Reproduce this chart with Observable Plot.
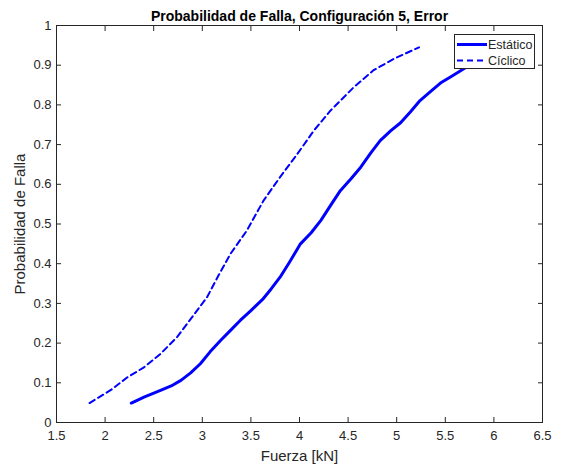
<!DOCTYPE html>
<html><head><meta charset="utf-8">
<script src="https://cdn.jsdelivr.net/npm/d3@7"></script>
<script src="https://cdn.jsdelivr.net/npm/@observablehq/plot@0.6"></script>
<style>
body{margin:0;background:#fff;}
#wrap{position:relative;width:564px;height:472px;font-family:"Liberation Sans",Arial,sans-serif;}
#legend{position:absolute;left:454px;top:34px;width:79px;height:33px;background:#fff;border:1px solid #262626;}
#legend svg{display:block;}
</style></head><body><div id="wrap"></div>
<script>
const titleText = "Probabilidad de Falla, Configuración 5, Error";
const xLabel = "Fuerza [kN]";
const yLabel = "Probabilidad de Falla";
const seriesNames = ["Estático", "Cíclico"];
const xTicks = [1.5, 2, 2.5, 3, 3.5, 4, 4.5, 5, 5.5, 6, 6.5];
const yTicks = [0, 0.1, 0.2, 0.3, 0.4, 0.5, 0.6, 0.7, 0.8, 0.9, 1];

const estaticoX = [2.27, 2.40, 2.57, 2.68, 2.78, 2.88, 2.98, 3.08, 3.19, 3.29, 3.39, 3.50, 3.62, 3.71, 3.80, 3.90, 4.01, 4.12, 4.22, 4.32, 4.42, 4.53, 4.63, 4.73, 4.83, 4.94, 5.04, 5.14, 5.24, 5.35, 5.45, 5.57, 5.69, 5.82, 5.95, 6.15];
const estaticoY = [0.049, 0.064, 0.081, 0.092, 0.106, 0.125, 0.148, 0.178, 0.207, 0.232, 0.257, 0.282, 0.310, 0.337, 0.366, 0.405, 0.450, 0.478, 0.509, 0.547, 0.584, 0.614, 0.643, 0.678, 0.710, 0.735, 0.755, 0.782, 0.811, 0.834, 0.855, 0.873, 0.891, 0.908, 0.925, 0.950];

const ciclicoX = [1.84, 2.06, 2.23, 2.40, 2.57, 2.74, 2.91, 3.05, 3.17, 3.29, 3.46, 3.63, 3.80, 3.98, 4.15, 4.32, 4.56, 4.76, 4.97, 5.23];
const ciclicoY = [0.049, 0.082, 0.114, 0.139, 0.173, 0.215, 0.270, 0.316, 0.372, 0.425, 0.484, 0.559, 0.618, 0.677, 0.736, 0.786, 0.845, 0.887, 0.916, 0.945];

const estatico = estaticoX.map((x, i) => ({x, y: estaticoY[i]}));
const ciclico = ciclicoX.map((x, i) => ({x, y: ciclicoY[i]}));

const axisColor = "#262626";
const fmt = d => String(d);
const plot = Plot.plot({
  width: 564, height: 472,
  marginLeft: 56, marginRight: 22, marginTop: 25, marginBottom: 50,
  style: {fontFamily: "'Liberation Sans', Arial, sans-serif", fontSize: "13px", color: axisColor, background: "#fff"},
  x: {domain: [1.5, 6.5]},
  y: {domain: [0, 1]},
  marks: [
    Plot.line(estatico, {x: "x", y: "y", stroke: "#0000ff", strokeWidth: 3}),
    Plot.line(ciclico, {x: "x", y: "y", stroke: "#0000ff", strokeWidth: 2, strokeDasharray: "6,4"}),
    Plot.axisX({ticks: xTicks, tickFormat: fmt, tickSize: -5, tickPadding: 13, stroke: axisColor, fill: axisColor,
      label: xLabel, labelAnchor: "center", labelArrow: "none", labelOffset: 38, fontSize: 13}),
    Plot.axisX({anchor: "top", ticks: xTicks, tickSize: -5, tickFormat: () => "", label: null, stroke: axisColor}),
    Plot.axisY({ticks: yTicks, tickFormat: fmt, tickSize: -5, tickPadding: 10, stroke: axisColor, fill: axisColor,
      label: yLabel, labelAnchor: "center", labelArrow: "none", labelOffset: 42}),
    Plot.axisY({anchor: "right", ticks: yTicks, tickSize: -5, tickFormat: () => "", label: null, stroke: axisColor}),
    Plot.frame({stroke: axisColor}),
    Plot.text([titleText], {frameAnchor: "top", dy: -5, lineAnchor: "bottom", fontWeight: "bold", fontSize: 14, fill: "#000"})
  ]
});
plot.querySelectorAll('[aria-label="x-axis label"] text, [aria-label="y-axis label"] text').forEach(t => t.setAttribute("font-size", "15px"));
document.getElementById("wrap").appendChild(plot);

const legend = document.createElement("div");
legend.id = "legend";
const ns = "http://www.w3.org/2000/svg";
const lsvg = document.createElementNS(ns, "svg");
lsvg.setAttribute("width", 79); lsvg.setAttribute("height", 33);
const styles = [{w: 3, dash: null}, {w: 2, dash: "6,4"}];
seriesNames.forEach((name, i) => {
  const y = 9.5 + i * 16;
  const ln = document.createElementNS(ns, "line");
  ln.setAttribute("x1", 2); ln.setAttribute("x2", 32);
  ln.setAttribute("y1", y); ln.setAttribute("y2", y);
  ln.setAttribute("stroke", "#0000ff"); ln.setAttribute("stroke-width", styles[i].w);
  if (styles[i].dash) ln.setAttribute("stroke-dasharray", styles[i].dash);
  lsvg.appendChild(ln);
  const tx = document.createElementNS(ns, "text");
  tx.setAttribute("x", 33); tx.setAttribute("y", y);
  tx.setAttribute("dy", "0.35em");
  tx.setAttribute("font-size", "12.5px");
  tx.setAttribute("font-family", "'Liberation Sans', Arial, sans-serif");
  tx.setAttribute("fill", axisColor);
  tx.textContent = name;
  lsvg.appendChild(tx);
});
legend.appendChild(lsvg);
document.getElementById("wrap").appendChild(legend);
</script>
</body></html>
